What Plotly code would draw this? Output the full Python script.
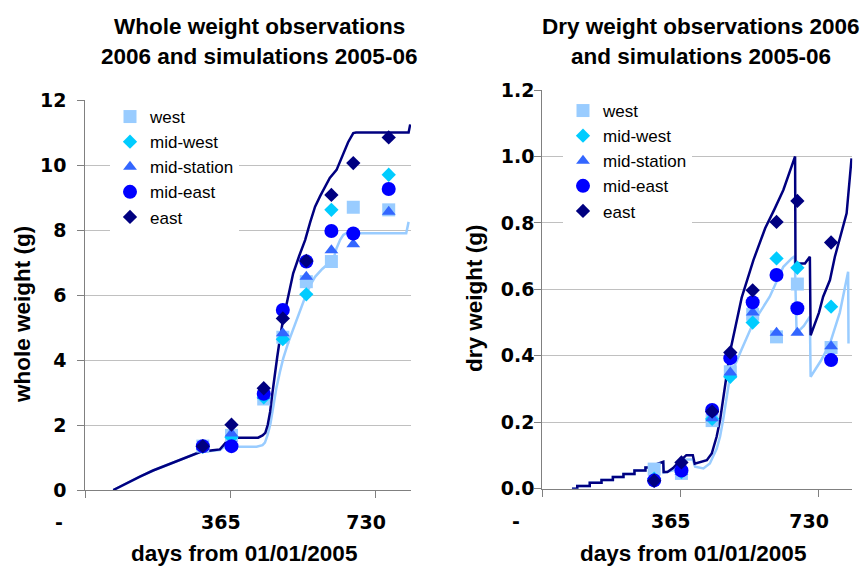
import plotly.graph_objects as go

W, H = 864, 567
def px(x): return x / W
def py(y): return 1 - y / H

FONT = "Liberation Sans, Arial, sans-serif"
TICK_FONT = "DejaVu Sans, Verdana, sans-serif"

# ---------------- data ----------------
stations = ["west", "mid-west", "mid-station", "mid-east", "east"]
obs_days = [295, 367, 448, 496, 555, 618, 673, 762]

whole_west = [1.35, 1.68, 2.80, 4.70, 6.41, 7.03, 8.70, 8.62]
whole_midwest = [1.33, 1.62, 2.85, 4.64, 6.02, 8.62, None, 9.70]
whole_midstation = [1.33, 1.74, 2.90, 4.82, 6.56, 7.38, 7.56, 8.56]
whole_mideast = [1.35, 1.35, 2.96, 5.54, 7.03, 7.97, 7.89, 9.26]
whole_east = [1.35, 2.01, 3.13, 5.28, 7.05, 9.08, 10.06, 10.85]

dry_west = [0.059, 0.046, 0.205, 0.352, 0.525, 0.457, 0.616, 0.425]
dry_midwest = [0.030, 0.050, 0.210, 0.337, 0.500, 0.693, 0.665, 0.548]
dry_midstation = [0.030, 0.050, 0.212, 0.350, 0.530, 0.469, 0.469, 0.429]
dry_mideast = [0.025, 0.055, 0.237, 0.393, 0.561, 0.643, 0.543, 0.387]
dry_east = [0.024, 0.079, 0.232, 0.410, 0.597, 0.803, 0.866, 0.741]

# simulations (whole weight)
whole_sim_hi_days = [70, 100, 137, 170, 204, 250, 288, 320, 338, 350, 358, 366, 434, 445,
                     452, 458, 464, 470, 476, 482, 488, 496, 504, 513, 522, 537, 552, 565,
                     577, 590, 602, 614, 631, 645, 660, 673, 680, 812, 816]
whole_sim_hi = [0, 0.19, 0.41, 0.60, 0.77, 1.00, 1.17, 1.22, 1.25, 1.42, 1.56, 1.61, 1.61, 1.68,
                1.76, 2.00, 2.40, 3.00, 3.60, 4.10, 4.60, 5.20, 5.64, 6.20, 6.67, 7.20, 7.69, 8.25,
                8.72, 9.05, 9.33, 9.60, 9.85, 10.25, 10.70, 10.98, 11.00, 11.00, 11.25]
whole_sim_lo_days = [70, 100, 137, 170, 204, 250, 288, 320, 338, 345, 351, 430, 445, 451,
                     458, 465, 472, 480, 489, 497, 510, 522, 537, 551, 565, 577, 595, 610,
                     623, 631, 640, 648, 655, 806, 812]
whole_sim_lo = [0, 0.19, 0.41, 0.60, 0.77, 1.00, 1.17, 1.21, 1.23, 1.30, 1.33, 1.33, 1.38, 1.46,
                1.70, 2.05, 2.60, 3.15, 3.65, 4.05, 4.55, 4.95, 5.45, 5.90, 6.30, 6.56, 6.80, 6.97,
                7.10, 7.44, 7.70, 7.85, 7.90, 7.90, 8.25]

# simulations (dry weight)
dry_sim_hi_days = [78, 92, 92, 125, 125, 156, 156, 186, 186, 214, 214, 243, 243, 272, 272, 302, 302, 319,
                   320, 330, 345, 358, 380, 397, 402, 415, 434, 447,
                   460, 469, 482, 495, 510, 526, 557, 588, 612, 636,
                   667, 668, 693, 706, 708, 730, 741, 759, 772, 790, 803, 816]
dry_sim_hi = [0, 0, 0.008, 0.008, 0.018, 0.018, 0.026, 0.026, 0.035, 0.035, 0.044, 0.044, 0.055, 0.055, 0.064, 0.064, 0.074, 0.081,
              0.050, 0.050, 0.062, 0.078, 0.101, 0.101, 0.075, 0.080, 0.086, 0.106,
              0.157, 0.207, 0.310, 0.410, 0.490, 0.575, 0.688, 0.784, 0.840, 0.899,
              1.000, 0.678, 0.678, 0.698, 0.462, 0.530, 0.578, 0.628, 0.698, 0.770, 0.829, 0.994]
dry_sim_lo_days = [78, 92, 92, 125, 125, 156, 156, 186, 186, 214, 214, 243, 243, 272, 272, 302, 302, 319,
                   320, 345, 360, 378, 397, 403, 425, 442, 460, 469,
                   477, 495, 526, 557, 600, 636, 658, 666, 671, 690,
                   706, 708, 735, 759, 785, 807, 808]
dry_sim_lo = [0, 0, 0.008, 0.008, 0.018, 0.018, 0.026, 0.026, 0.035, 0.035, 0.044, 0.044, 0.055, 0.055, 0.064, 0.064, 0.074, 0.080,
              0.048, 0.055, 0.070, 0.088, 0.088, 0.066, 0.061, 0.076, 0.120, 0.157,
              0.207, 0.337, 0.420, 0.500, 0.578, 0.668, 0.693, 0.700, 0.468, 0.490,
              0.518, 0.337, 0.385, 0.437, 0.530, 0.653, 0.437]

x_tickvals = [0, 365, 730]
x_ticktext = ["-" + "\u00a0" * 8, "365" + "\u00a0" * 3, "730" + "\u00a0" * 3]

# ---------------- styles ----------------
LIGHT = "#99CCFF"
DARK = "#000080"
marker_styles = {
    "west": dict(symbol="square", size=13, color="#99CCFF"),
    "mid-west": dict(symbol="diamond", size=11, color="#00CCFF"),
    "mid-station": dict(symbol="triangle-up", size=12, color="#3366FF"),
    "mid-east": dict(symbol="circle", size=14, color="#0000FF"),
    "east": dict(symbol="diamond", size=11, color="#000080"),
}

fig = go.Figure()

# simulation lines
fig.add_trace(go.Scatter(x=whole_sim_lo_days, y=whole_sim_lo, mode="lines",
                         line=dict(color=LIGHT, width=2.5), showlegend=False,
                         hoverinfo="skip", xaxis="x", yaxis="y"))
fig.add_trace(go.Scatter(x=whole_sim_hi_days, y=whole_sim_hi, mode="lines",
                         line=dict(color=DARK, width=2.5), showlegend=False,
                         hoverinfo="skip", xaxis="x", yaxis="y"))
fig.add_trace(go.Scatter(x=dry_sim_lo_days, y=dry_sim_lo, mode="lines",
                         line=dict(color=LIGHT, width=2.5), showlegend=False,
                         hoverinfo="skip", xaxis="x2", yaxis="y2"))
fig.add_trace(go.Scatter(x=dry_sim_hi_days, y=dry_sim_hi, mode="lines",
                         line=dict(color=DARK, width=2.5), showlegend=False,
                         hoverinfo="skip", xaxis="x2", yaxis="y2"))

whole_series = [whole_west, whole_midwest, whole_midstation, whole_mideast, whole_east]
dry_series = [dry_west, dry_midwest, dry_midstation, dry_mideast, dry_east]

for name, vals in zip(stations, whole_series):
    ms = marker_styles[name]
    fig.add_trace(go.Scatter(x=obs_days, y=vals, mode="markers", name=name,
                             marker=dict(symbol=ms["symbol"], size=ms["size"], color=ms["color"],
                                         line=dict(width=0)),
                             xaxis="x", yaxis="y", legend="legend", cliponaxis=False))
for name, vals in zip(stations, dry_series):
    ms = marker_styles[name]
    fig.add_trace(go.Scatter(x=obs_days, y=vals, mode="markers", name=name,
                             marker=dict(symbol=ms["symbol"], size=ms["size"], color=ms["color"],
                                         line=dict(width=0)),
                             xaxis="x2", yaxis="y2", legend="legend2", cliponaxis=False))

tickfont = dict(family=TICK_FONT, size=19, color="black", weight="bold")
common_x = dict(range=[0, 818], tickmode="array", tickvals=x_tickvals, ticktext=x_ticktext,
                ticks="outside", ticklen=7, tickcolor="#808080", tickwidth=1,
                showline=True, linecolor="#808080", linewidth=1.3, automargin=False,
                showgrid=False, zeroline=False, tickfont=tickfont, ticklabelstandoff=8)
common_y = dict(ticks="outside", ticklen=7, tickcolor="#808080", tickwidth=1,
                showline=True, linecolor="#808080", linewidth=1.3, automargin=False,
                showgrid=True, gridcolor="#C0C0C0", gridwidth=1, zeroline=False,
                tickfont=tickfont)

legend_common = dict(font=dict(family=FONT, size=17, color="black"), bgcolor="white",
                     borderwidth=0, xanchor="left", yanchor="top",
                     tracegroupgap=0, itemclick=False)

fig.update_layout(
    width=W, height=H,
    margin=dict(l=0, r=0, t=0, b=0, autoexpand=False),
    paper_bgcolor="white", plot_bgcolor="white",
    xaxis=dict(domain=[px(85.4), px(411.0)], anchor="y", **common_x),
    yaxis=dict(domain=[py(490), py(100)], anchor="x", range=[0, 12], tickvals=[0, 2, 4, 6, 8, 10, 12],
               ticklabelstandoff=7, **common_y),
    xaxis2=dict(domain=[px(542.4), px(852.3)], anchor="y2", **common_x),
    yaxis2=dict(domain=[py(488.7), py(90)], anchor="x2", range=[0, 1.2],
                tickvals=[0, 0.2, 0.4, 0.6, 0.8, 1.0, 1.2], tickformat=".1f",
                ticklabelstandoff=-4, **common_y),
    legend=dict(x=px(110), y=py(99), **legend_common),
    legend2=dict(x=px(563), y=py(93), **legend_common),
    showlegend=True,
)

title_font = dict(family=FONT, size=22.5, color="black", weight="bold")
axis_font = dict(family=FONT, size=22.5, color="black", weight="bold")
annotations = [
    dict(text="Whole weight observations", x=px(259), y=py(26), font=title_font),
    dict(text="2006 and simulations 2005-06", x=px(259), y=py(56), font=title_font),
    dict(text="Dry weight observations 2006", x=px(701), y=py(26), font=title_font),
    dict(text="and simulations 2005-06", x=px(701), y=py(56), font=title_font),
    dict(text="days from 01/01/2005", x=px(244), y=py(553), font=axis_font),
    dict(text="days from 01/01/2005", x=px(693), y=py(553), font=axis_font),
    dict(text="whole weight (g)", x=px(22), y=py(315), font=axis_font, textangle=-90),
    dict(text="dry weight (g)", x=px(474), y=py(298), font=axis_font, textangle=-90),
]
for a in annotations:
    fig.add_annotation(xref="paper", yref="paper", showarrow=False, borderpad=0,
                       xanchor="center", yanchor="middle", **a)

fig.write_html("out.html")
